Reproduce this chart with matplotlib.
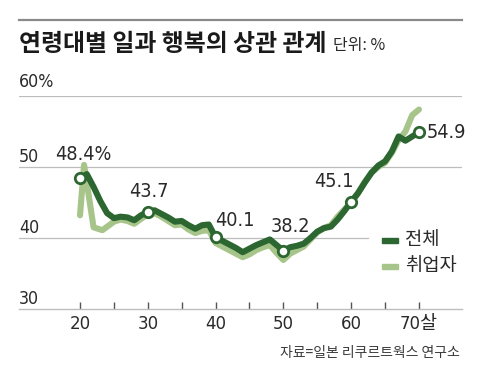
import matplotlib
matplotlib.use("Agg")
import matplotlib.pyplot as plt
from matplotlib import font_manager
from matplotlib.lines import Line2D
from matplotlib.patches import Rectangle

# 전체 (all respondents), one point per age
ages_all = list(range(20, 71))
vals_all = [48.4, 49.0, 47.2, 45.2, 43.5, 42.8, 43.0, 42.9, 42.5, 43.2,
            43.7, 43.9, 43.4, 42.9, 42.3, 42.4, 41.8, 41.3, 41.8, 41.9,
            40.1, 39.6, 39.1, 38.6, 38.0, 38.5, 39.0, 39.4, 39.8, 39.0,
            38.2, 38.7, 38.9, 39.2, 40.0, 40.9, 41.4, 41.6, 42.6, 43.8,
            45.1, 46.3, 47.8, 49.2, 50.2, 50.8, 52.2, 54.3, 53.7, 54.3,
            54.9]

# 취업자 (employed)
ages_emp = [20, 20.6, 22, 23.3] + list(range(25, 71))
vals_emp = [43.2, 50.3, 41.5, 41.1,
            42.3, 42.6, 42.4, 42.0, 42.7,
            43.3, 43.5, 43.0, 42.4, 41.8, 41.9, 41.2, 40.7, 41.0, 41.1,
            39.3, 38.8, 38.3, 37.8, 37.3, 37.7, 38.3, 38.7, 39.0, 37.9,
            36.9, 37.8, 38.3, 38.8, 39.8, 40.8, 41.4, 41.8, 43.0, 44.0,
            45.0, 46.3, 47.9, 49.2, 50.0, 50.6, 52.0, 53.8, 55.0, 57.3,
            58.1]

marked_ages = [20, 30, 40, 50, 60, 70]
marked_text = ["48.4%", "43.7", "40.1", "38.2", "45.1", "54.9"]

x_ticks = [20, 30, 40, 50, 60, 70]
x_ticklabels = ["20", "30", "40", "50", "60", "70살"]
y_grid = [40, 50, 60]
y_labels = ["30", "40", "50", "60%"]

DARK = "#2c6630"
LIGHT = "#a7c58b"
GRID = "#bdbdbd"
TXT = "#2a2a2a"
KR = ["Noto Sans CJK KR", "DejaVu Sans"]

# the numbers in the original use a narrow face; take one if it is there
have_cond = any(f.name == "DejaVu Sans" and f.stretch == "condensed"
                for f in font_manager.fontManager.ttflist)
names = {f.name for f in font_manager.fontManager.ttflist}
if "Liberation Sans Narrow" in names:
    NUM = ["Liberation Sans Narrow", "Noto Sans CJK KR"]
    NUM_STRETCH = "normal"
    num_scale = 1.0
elif have_cond:
    NUM = ["DejaVu Sans", "Noto Sans CJK KR"]
    NUM_STRETCH = "condensed"
    num_scale = 0.95
else:
    NUM = ["Roboto", "Noto Sans CJK KR"]
    NUM_STRETCH = "normal"
    num_scale = 0.9

W, H = 480, 372
fig = plt.figure(figsize=(W / 100, H / 100), dpi=100)

# axes: x 19..462 px, y 96..309 px (60 .. 30)
ax = fig.add_axes([19 / W, (H - 309) / H, 443 / W, 213 / H])
ax.set_xlim(11.0, 76.35)
ax.set_ylim(30, 60)

for s in ["top", "right", "left"]:
    ax.spines[s].set_visible(False)
ax.spines["bottom"].set_color(GRID)
ax.spines["bottom"].set_linewidth(1.0)

for g in y_grid:
    xmax = 0.788 if g == 40 else 1.0
    ax.axhline(g, xmin=0, xmax=xmax, color=GRID, lw=0.9, zorder=1)

ax.plot(ages_emp, vals_emp, color=LIGHT, lw=4.4, solid_capstyle="round",
        solid_joinstyle="round", zorder=2, clip_on=False)
ax.plot(ages_all, vals_all, color=DARK, lw=4.4, solid_capstyle="round",
        solid_joinstyle="round", zorder=3, clip_on=False)

mvals = [vals_all[ages_all.index(a)] for a in marked_ages]
ax.plot(marked_ages, mvals, ls="none", marker="o", ms=7.5, mfc="white",
        mec=DARK, mew=2.0, zorder=4, clip_on=False)

# value labels
lab_pos = {
    20: (0.5, 3.3, "center"),
    30: (0.2, 2.8, "center"),
    40: (-0.1, 2.3, "left"),
    50: (1.0, 3.4, "center"),
    60: (0.3, 2.9, "right"),
    70: (1.1, -0.1, "left"),
}
for a, v, t in zip(marked_ages, mvals, marked_text):
    dx, dy, ha = lab_pos[a]
    ax.text(a + dx, v + dy, t, ha=ha, va="center", fontsize=15 * num_scale,
            family=NUM, fontstretch=NUM_STRETCH, color=TXT, zorder=5)

# x axis
ax.set_xticks(x_ticks)
ax.set_xticks([25, 35, 45, 55, 65], minor=True)
ax.set_xticklabels(x_ticklabels, family=NUM, fontstretch=NUM_STRETCH,
                   fontsize=14 * num_scale, color=TXT)
ax.tick_params(axis="x", which="both", direction="in", length=5,
               width=1.0, color="#555555", pad=4)
ax.set_yticks([])

# y labels sit above the gridlines
for v, t in zip([30, 40, 50], y_labels[:3]):
    ax.text(0, v + 0.65, t, transform=ax.get_yaxis_transform(),
            ha="left", va="baseline", fontsize=13.5 * num_scale, family=NUM,
            fontstretch=NUM_STRETCH, color=TXT)
ax.text(0, 61.3, y_labels[3], transform=ax.get_yaxis_transform(),
        ha="left", va="baseline", fontsize=13.5 * num_scale, family=NUM,
        fontstretch=NUM_STRETCH, color=TXT, clip_on=False)

# legend
fig.patches.append(Rectangle((382 / W, 1 - 243 / H), 16 / W, 5 / H,
                             transform=fig.transFigure, color=DARK))
fig.patches.append(Rectangle((382 / W, 1 - 269 / H), 16 / W, 5 / H,
                             transform=fig.transFigure, color=LIGHT))
fig.text(405 / W, 1 - 240 / H, "전체", ha="left", va="center",
         fontsize=13.5, family=KR, color=TXT)
fig.text(405 / W, 1 - 266 / H, "취업자", ha="left", va="center",
         fontsize=13.5, family=KR, color=TXT)

# title area
fig.add_artist(Line2D([19 / W, 462 / W], [1 - 20 / H, 1 - 20 / H],
                      transform=fig.transFigure, color="#8a8a8a", lw=1.6))
fig.text(19 / W, 1 - 51 / H, "연령대별 일과 행복의 상관 관계", ha="left",
         va="baseline", fontsize=17.2, fontweight="bold", family=KR,
         color="#1a1a1a")
fig.text(333 / W, 1 - 50 / H, "단위: %", ha="left", va="baseline",
         fontsize=11.5, family=KR, color=TXT)

fig.text(460 / W, 1 - 353 / H, "자료=일본 리쿠르트웍스 연구소", ha="right",
         va="center", fontsize=10, family=KR, color="#3a3a3a")

fig.savefig("out.png", dpi=100)
